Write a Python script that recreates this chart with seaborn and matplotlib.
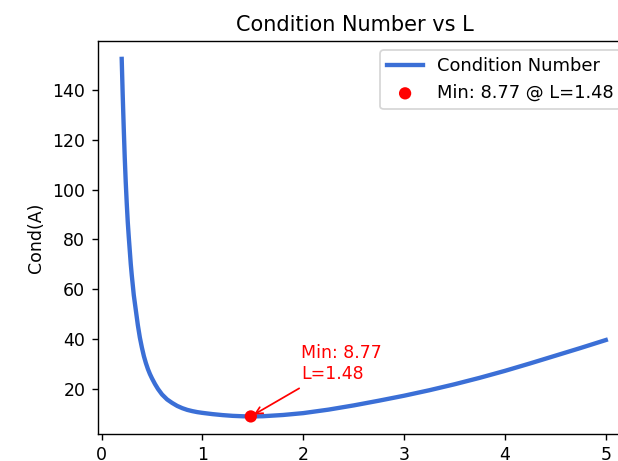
import matplotlib
matplotlib.use("Agg")
import matplotlib.pyplot as plt
import seaborn as sns
import pandas as pd

# Values
L_values = [0.20, 0.21, 0.22, 0.23, 0.24, 0.25, 0.26, 0.27, 0.28, 0.29, 0.30,
            0.32, 0.34, 0.36, 0.38, 0.40, 0.42, 0.44, 0.46, 0.48, 0.50, 0.53,
            0.56, 0.60, 0.65, 0.70, 0.75, 0.80, 0.85, 0.90, 0.95, 1.00, 1.10,
            1.20, 1.30, 1.40, 1.48, 1.60, 1.80, 2.00, 2.25, 2.50, 2.75, 3.00,
            3.25, 3.50, 3.75, 4.00, 4.25, 4.50, 4.75, 5.00]
cond_values = [152.6, 138.0, 125.0, 113.0, 103.0, 94.5, 87.0, 81.0, 75.5, 70.0, 65.5,
               57.5, 51.5, 45.5, 40.5, 36.5, 33.0, 30.2, 27.8, 25.8, 24.1, 21.8,
               19.8, 17.6, 15.6, 14.2, 13.0, 12.1, 11.4, 10.9, 10.5, 10.2, 9.7,
               9.3, 9.0, 8.83, 8.77, 8.85, 9.35, 10.1, 11.5, 13.2, 15.1, 17.1,
               19.3, 21.7, 24.3, 27.1, 30.1, 33.2, 36.3, 39.5]
min_L = [1.48]
min_cond = [8.77]

df = pd.DataFrame({"L": L_values, "Cond": cond_values})
dfmin = pd.DataFrame({"L": min_L, "Cond": min_cond})

fig = plt.figure(figsize=(618 / 125, 461 / 125), dpi=125)
ax = fig.add_axes([97.5 / 618, (461 - 434.3) / 461, (630 - 97.5) / 618, (434.3 - 41) / 461])

sns.lineplot(data=df, x="L", y="Cond", ax=ax, color="#3b6fd6", linewidth=2.5,
             label="Condition Number")
sns.scatterplot(data=dfmin, x="L", y="Cond", ax=ax, color="red", s=50,
                edgecolor="none", zorder=5,
                label=f"Min: {min_cond[0]:.2f} @ L={min_L[0]:.2f}")

ax.annotate(f"Min: {min_cond[0]:.2f}\nL={min_L[0]:.2f}",
            xy=(min_L[0], min_cond[0]),
            xytext=(min_L[0] + 0.5, min_cond[0] + 15),
            color="red", fontsize=10,
            arrowprops=dict(arrowstyle="->", color="red"))

ax.set_title("Condition Number vs L", fontsize=12, x=0.4836)
ax.set_xlabel("")
ax.set_ylabel("Cond(A)")
ax.set_xticks([0, 1, 2, 3, 4, 5])
ax.set_yticks([20, 40, 60, 80, 100, 120, 140])
ax.legend(loc="upper right", fontsize=10.3)

fig.savefig("out.png", dpi=125)
